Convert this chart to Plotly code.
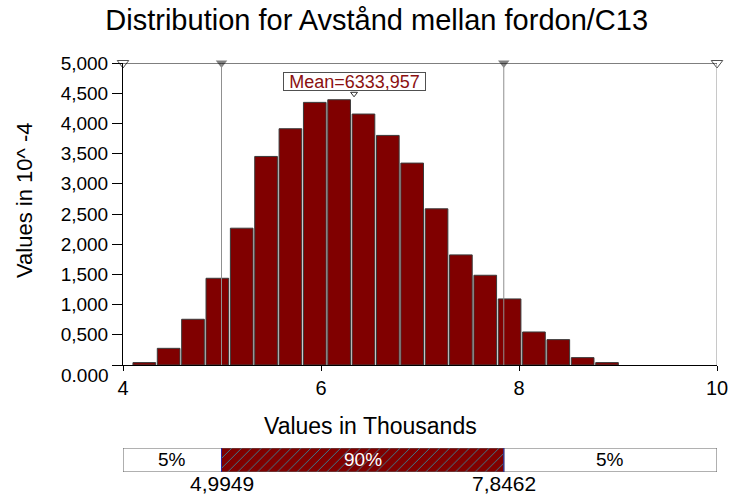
import plotly.graph_objects as go

# ---- data ----
bin_centers = [4.215, 4.461, 4.707, 4.953, 5.199, 5.445, 5.691, 5.937, 6.183, 6.429,
               6.675, 6.921, 7.167, 7.413, 7.659, 7.905, 8.151, 8.397, 8.643, 8.889]
bin_width = 0.246
bar_heights = [0.04, 0.276, 0.757, 1.436, 2.265, 3.453, 3.912, 4.348, 4.392, 4.155,
               3.801, 3.343, 2.586, 1.823, 1.486, 1.094, 0.547, 0.420, 0.122, 0.04]
mean_value = 6333.957
p5 = 4.9949
p95 = 7.8462
x_min, x_max = 4, 10
y_min, y_max = 0, 5
x_tickvals = [4, 6, 8, 10]
y_tickvals = [0.5 * i for i in range(11)]
pct_labels = ["5%", "90%", "5%"]

FONT = "Liberation Sans, Arial, sans-serif"
MAROON = "#800000"
HATCH = "#2f8fa5"

def comma(v, d):
    return f"{v:.{d}f}".replace(".", ",")

y_ticktext = ["" if v == 0 else comma(v, 3) for v in y_tickvals]

fig = go.Figure()

# histogram bars
fig.add_trace(go.Bar(
    x=bin_centers, y=bar_heights, width=bin_width * 0.93,
    marker=dict(color=MAROON, line=dict(color="#3a3a3a", width=1)),
    xaxis="x", yaxis="y", showlegend=False, hoverinfo="skip"))

# top triangles (range ends hollow, percentiles filled)
fig.add_trace(go.Scatter(
    x=[x_min, x_max], y=[y_max, y_max], mode="markers",
    marker=dict(symbol="triangle-down-open", size=10, color="#505050", line=dict(width=1)),
    cliponaxis=False, showlegend=False, hoverinfo="skip", xaxis="x", yaxis="y"))
fig.add_trace(go.Scatter(
    x=[p5, p95], y=[y_max, y_max], mode="markers",
    marker=dict(symbol="triangle-down", size=10, color="#808080"),
    cliponaxis=False, showlegend=False, hoverinfo="skip", xaxis="x", yaxis="y"))
# mean marker
fig.add_trace(go.Scatter(
    x=[mean_value / 1000], y=[4.49], mode="markers",
    marker=dict(symbol="triangle-down-open", size=6, color="#303030", line=dict(width=1)),
    cliponaxis=False, showlegend=False, hoverinfo="skip", xaxis="x", yaxis="y"))

# bottom percentile bar: plain segments
fig.add_trace(go.Bar(
    y=[0.5, 0.5], base=[x_min, p95], x=[p5 - x_min, x_max - p95],
    orientation="h", width=1,
    marker=dict(color="white", line=dict(color="#606060", width=1)),
    xaxis="x2", yaxis="y2", showlegend=False, hoverinfo="skip"))
# hatched middle segment
fig.add_trace(go.Bar(
    y=[0.5], base=[p5], x=[p95 - p5],
    orientation="h", width=1,
    marker=dict(color=MAROON, line=dict(color="#606060", width=1),
                pattern=dict(shape="/", fgcolor=HATCH, fgopacity=1, size=7,
                             solidity=0.12, fillmode="overlay")),
    xaxis="x2", yaxis="y2", showlegend=False, hoverinfo="skip"))

shapes = [
    dict(type="line", xref="x", yref="y domain", x0=p5, x1=p5, y0=0, y1=1,
         line=dict(color="#909090", width=1), layer="above"),
    dict(type="line", xref="x", yref="y domain", x0=p95, x1=p95, y0=0, y1=1,
         line=dict(color="#909090", width=1), layer="above"),
    dict(type="line", xref="x", yref="y domain", x0=x_max, x1=x_max, y0=0, y1=1,
         line=dict(color="#909090", width=1), layer="above"),
    dict(type="line", xref="x domain", yref="y", x0=0, x1=1, y0=y_max, y1=y_max,
         line=dict(color="black", width=1), layer="above"),
    dict(type="line", xref="x2", yref="y2", x0=p5, x1=p5, y0=0, y1=1,
         line=dict(color="#2828a0", width=1), layer="above"),
    dict(type="line", xref="x2", yref="y2", x0=p95, x1=p95, y0=0, y1=1,
         line=dict(color="#2828a0", width=1), layer="above"),
]

annotations = [
    dict(text="Mean=" + comma(mean_value, 3), x=mean_value / 1000, y=4.69, xref="x", yref="y",
         showarrow=False, font=dict(family=FONT, size=18, color="#8b1010"),
         bgcolor="white", bordercolor="#505050", borderwidth=1, borderpad=0,
         width=141, height=17, valign="middle"),
    dict(text="0.000", x=0, y=0, xref="paper", yref="y", xanchor="right", yanchor="middle",
         xshift=-12, yshift=-10, showarrow=False, font=dict(family=FONT, size=19, color="black")),
    dict(text="Values in 10^ -4", x=-0.1667, y=0.665, xref="paper", yref="paper",
         textangle=-90, showarrow=False, xanchor="center", yanchor="middle",
         font=dict(family=FONT, size=22, color="black")),
    dict(text="Values in Thousands", x=0.416, y=0.1125, xref="paper", yref="paper",
         showarrow=False, xanchor="center", yanchor="middle",
         font=dict(family=FONT, size=23, color="black")),
    dict(text=pct_labels[0], x=(x_min + p5) / 2, y=0.5, xref="x2", yref="y2", showarrow=False,
         font=dict(family=FONT, size=19, color="black")),
    dict(text=pct_labels[1], x=(p5 + p95) / 2, y=0.5, xref="x2", yref="y2", showarrow=False,
         font=dict(family=FONT, size=19, color="white")),
    dict(text=pct_labels[2], x=(p95 + x_max) / 2, y=0.5, xref="x2", yref="y2", showarrow=False,
         font=dict(family=FONT, size=19, color="black")),
    dict(text=comma(p5, 4), x=p5, y=0, xref="x2", yref="y2", yanchor="top", showarrow=False,
         yshift=2, font=dict(family=FONT, size=21, color="black")),
    dict(text=comma(p95, 4), x=p95, y=0, xref="x2", yref="y2", yanchor="top", showarrow=False,
         yshift=2, font=dict(family=FONT, size=21, color="black")),
]

fig.update_layout(
    width=730, height=499,
    margin=dict(l=123, r=13, t=63, b=27, autoexpand=False),
    paper_bgcolor="white", plot_bgcolor="white",
    barmode="overlay",
    title=dict(text="Distribution for Avstånd mellan fordon/C13", x=0.516, y=1 - 20 / 499,
               xanchor="center", yanchor="middle", xref="container", yref="container",
               font=dict(family=FONT, size=29, color="black"), automargin=False),
    xaxis=dict(range=[x_min, x_max], domain=[0, 1], anchor="y", automargin=False,
               tickvals=x_tickvals, ticktext=[str(v) for v in x_tickvals],
               ticks="outside", ticklen=5, tickcolor="black",
               showline=True, linecolor="black", linewidth=1,
               showgrid=False, zeroline=False,
               tickfont=dict(family=FONT, size=20, color="black")),
    yaxis=dict(range=[y_min, y_max], domain=[0.2616, 1], anchor="x", automargin=False,
               tickvals=y_tickvals, ticktext=y_ticktext,
               ticks="outside", ticklen=10, tickcolor="black",
               showline=True, linecolor="black", linewidth=1,
               showgrid=False, zeroline=False,
               tickfont=dict(family=FONT, size=19, color="black")),
    xaxis2=dict(range=[x_min, x_max], domain=[0, 1], anchor="y2", visible=False, automargin=False),
    yaxis2=dict(range=[0, 1], domain=[0, 0.0587], anchor="x2", visible=False, automargin=False),
    shapes=shapes,
    annotations=annotations,
)

fig.write_html("out.html", config={"displayModeBar": False},
               post_script="document.body.style.margin='0';document.body.style.padding='0';")
